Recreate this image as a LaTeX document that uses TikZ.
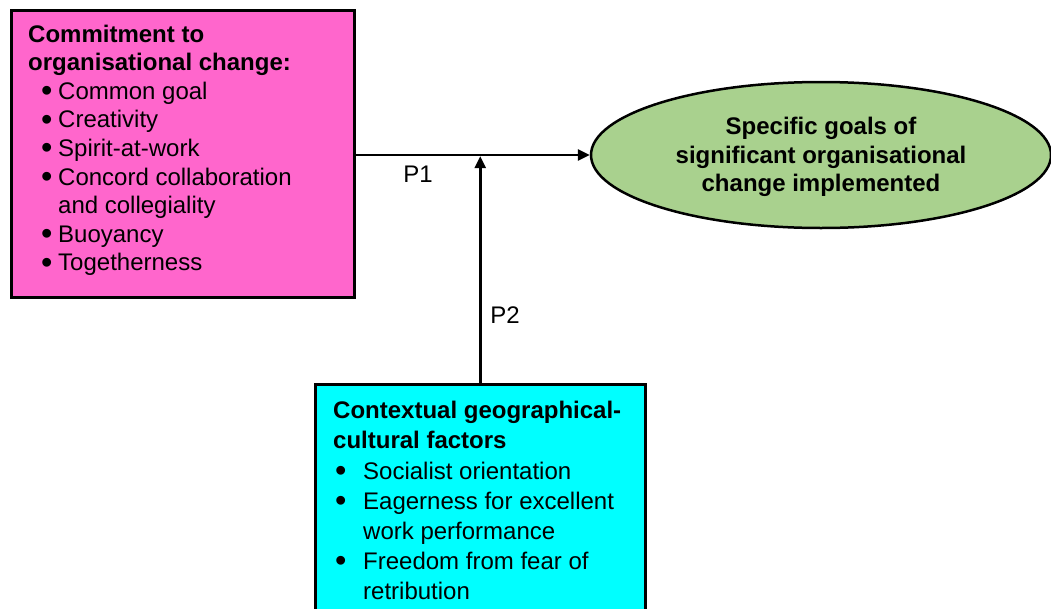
\documentclass[tikz,border=0pt]{standalone}
\usepackage{fontspec}
\setmainfont{Liberation Sans}
\usetikzlibrary{arrows.meta,shapes.geometric}
\definecolor{boxpink}{HTML}{FF66CC}
\definecolor{goalgreen}{HTML}{A9D18E}
\definecolor{ctxcyan}{HTML}{00FFFF}
\tikzset{
  framebox/.style={draw=black, line width=2.5pt, rectangle, inner sep=0pt},
  bodytext/.style={inner sep=0pt, align=left, font=\fontsize{24}{28.6}\selectfont},
  cyantext/.style={inner sep=0pt, align=left, font=\fontsize{24}{30.2}\selectfont},
  goal/.style={ellipse, draw=black, line width=2.5pt, fill=goalgreen, inner sep=0pt},
  goaltext/.style={inner sep=0pt, align=center, font=\fontsize{24}{28.5}\selectfont\bfseries},
  conn/.style={line width=2.5pt, -{Triangle[length=12pt,width=11pt]}},
  plabel/.style={inner sep=0pt, font=\fontsize{24}{29}\selectfont}
}
\newcommand{\bigbul}{\smash{\raisebox{-2.2pt}{\scalebox{1.35}{•}}}}
\newcommand{\pinkitem}[1]{\hspace*{13pt}\makebox[17pt][l]{\bigbul}#1}
\newcommand{\cyanitem}[1]{\hspace*{2pt}\makebox[28pt][l]{\bigbul}#1}
\begin{document}
\begin{tikzpicture}[x=1pt,y=-1pt]
\useasboundingbox (0,0) rectangle (1051,608);
\clip (0,0) rectangle (1051,608);
% boxes
\node[framebox, fill=boxpink, anchor=north west, minimum width=343pt, minimum height=287pt] (commit) at (10,9) {};
\node[bodytext, anchor=north west] (committxt) at (28,24.5) {\textbf{Commitment to}\\
\textbf{organisational change:}\\
\pinkitem{Common goal}\\
\pinkitem{Creativity}\\
\pinkitem{Spirit-at-work}\\
\pinkitem{Concord collaboration}\\
\hspace*{30pt}and collegiality\\
\pinkitem{Buoyancy}\\
\pinkitem{Togetherness}};
\node[goal, minimum width=460pt, minimum height=146pt] (goal) at (821,155) {};
\node[goaltext] (goaltxt) at (821,157) {Specific goals of\\significant organisational\\change implemented};
\node[framebox, fill=ctxcyan, anchor=north west, minimum width=330pt, minimum height=260pt] (context) at (314,383) {};
\node[cyantext, anchor=north west] (contexttxt) at (333,401) {\textbf{Contextual geographical-}\\
\textbf{cultural factors}\\
\cyanitem{Socialist orientation}\\
\cyanitem{Eagerness for excellent}\\
\hspace*{30pt}work performance\\
\cyanitem{Freedom from fear of}\\
\hspace*{30pt}retribution};
% connectors
\draw[conn] (commit.east |- goal.west) -- (goal.west);
\coordinate (meet) at (context.north |- goal.west);
\draw[conn, shorten >=1.2pt] (context.north) -- (meet);
\node[plabel] (p1) at (418,174) {P1};
\node[plabel] (p2) at (505,315) {P2};
\end{tikzpicture}
\end{document}
